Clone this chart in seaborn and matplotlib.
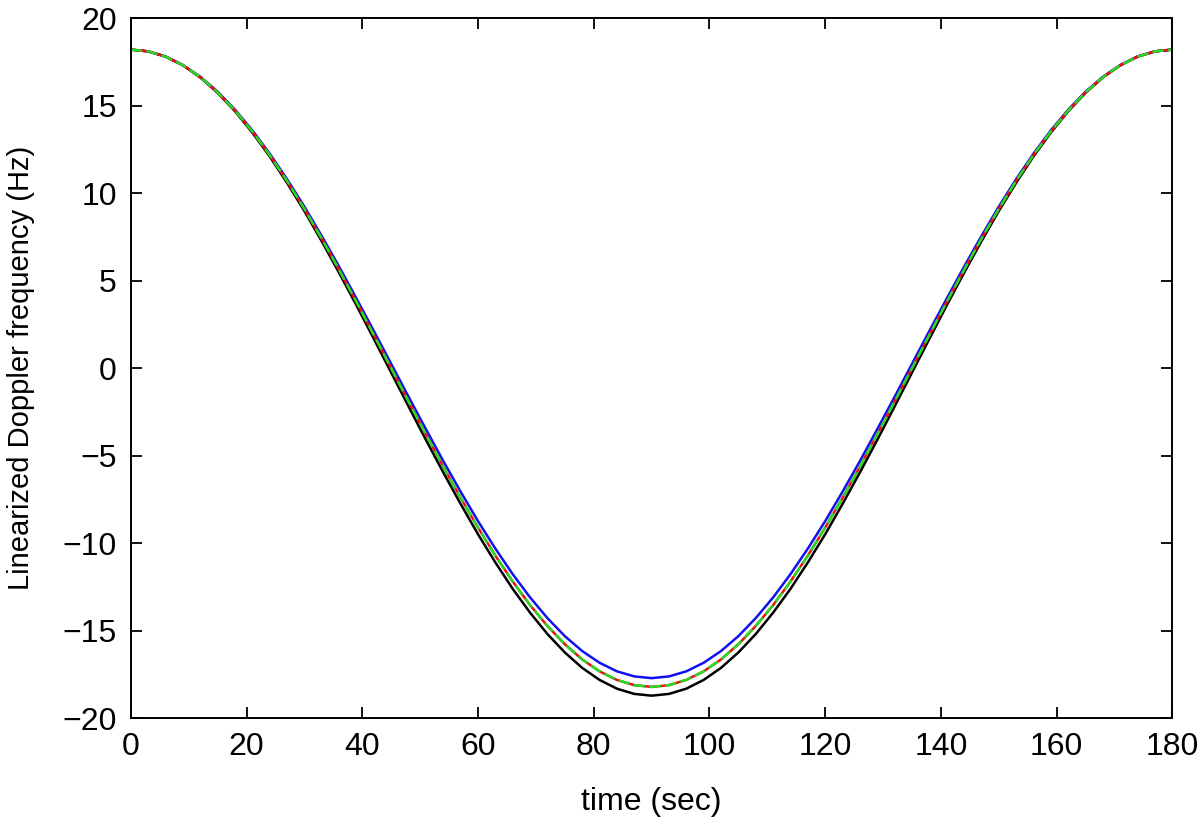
import numpy as np
import pandas as pd
import matplotlib
matplotlib.use("Agg")
import matplotlib.pyplot as plt
import seaborn as sns

# time axis (sec), sampled every 3 s
time_sec = [0, 3, 6, 9, 12, 15, 18, 21, 24, 27, 30, 33, 36, 39, 42, 45, 48, 51, 54, 57,
            60, 63, 66, 69, 72, 75, 78, 81, 84, 87, 90, 93, 96, 99, 102, 105, 108, 111,
            114, 117, 120, 123, 126, 129, 132, 135, 138, 141, 144, 147, 150, 153, 156,
            159, 162, 165, 168, 171, 174, 177, 180]

# curves (Hz)
f_blue = [18.20, 18.10, 17.81, 17.32, 16.65, 15.80, 14.77, 13.59, 12.26, 10.80,
          9.23, 7.55, 5.80, 3.98, 2.13, 0.25, -1.63, -3.48, -5.30, -7.05,
          -8.73, -10.30, -11.76, -13.09, -14.27, -15.30, -16.15, -16.82, -17.31, -17.60,
          -17.70,
          -17.60, -17.31, -16.82, -16.15, -15.30, -14.27, -13.09, -11.76, -10.30, -8.73,
          -7.05, -5.30, -3.48, -1.63, 0.25, 2.13, 3.98, 5.80, 7.55, 9.23,
          10.80, 12.26, 13.59, 14.77, 15.80, 16.65, 17.32, 17.81, 18.10, 18.20]
f_red = [18.20, 18.10, 17.80, 17.31, 16.63, 15.76, 14.72, 13.53, 12.18, 10.70,
         9.10, 7.40, 5.62, 3.78, 1.90, 0.00, -1.90, -3.78, -5.62, -7.40,
         -9.10, -10.70, -12.18, -13.53, -14.72, -15.76, -16.63, -17.31, -17.80, -18.10,
         -18.20,
         -18.10, -17.80, -17.31, -16.63, -15.76, -14.72, -13.53, -12.18, -10.70, -9.10,
         -7.40, -5.62, -3.78, -1.90, 0.00, 1.90, 3.78, 5.62, 7.40, 9.10,
         10.70, 12.18, 13.53, 14.72, 15.76, 16.63, 17.31, 17.80, 18.10, 18.20]
f_green = [18.20, 18.10, 17.80, 17.31, 16.63, 15.76, 14.72, 13.53, 12.18, 10.70,
           9.10, 7.40, 5.62, 3.78, 1.90, 0.00, -1.90, -3.78, -5.62, -7.40,
           -9.10, -10.70, -12.18, -13.53, -14.72, -15.76, -16.63, -17.31, -17.80, -18.10,
           -18.20,
           -18.10, -17.80, -17.31, -16.63, -15.76, -14.72, -13.53, -12.18, -10.70, -9.10,
           -7.40, -5.62, -3.78, -1.90, 0.00, 1.90, 3.78, 5.62, 7.40, 9.10,
           10.70, 12.18, 13.53, 14.72, 15.76, 16.63, 17.31, 17.80, 18.10, 18.20]
f_black = [18.20, 18.10, 17.80, 17.30, 16.61, 15.73, 14.68, 13.46, 12.10, 10.59,
           8.98, 7.25, 5.45, 3.59, 1.68, -0.25, -2.18, -4.09, -5.95, -7.75,
           -9.48, -11.09, -12.60, -13.96, -15.18, -16.23, -17.11, -17.80, -18.30, -18.60,
           -18.70,
           -18.60, -18.30, -17.80, -17.11, -16.23, -15.18, -13.96, -12.60, -11.09, -9.48,
           -7.75, -5.95, -4.09, -2.18, -0.25, 1.68, 3.59, 5.45, 7.25, 8.98,
           10.59, 12.10, 13.46, 14.68, 15.73, 16.61, 17.30, 17.80, 18.10, 18.20]

x_ticks = [0, 20, 40, 60, 80, 100, 120, 140, 160, 180]
y_ticks = [-20, -15, -10, -5, 0, 5, 10, 15, 20]

sns.set_style("ticks")
plt.rcParams['font.family'] = ['Liberation Sans', 'DejaVu Sans']
plt.rcParams['text.color'] = 'black'
plt.rcParams['axes.labelcolor'] = 'black'
plt.rcParams['xtick.color'] = 'black'
plt.rcParams['ytick.color'] = 'black'

fig = plt.figure(figsize=(12, 8.22), dpi=100)
ax = fig.add_axes([0.109, 0.126, 0.868, 0.852])

lw = 1.8
sns.lineplot(x=time_sec, y=f_black, color='black', lw=lw, ax=ax)
sns.lineplot(x=time_sec, y=f_blue, color='#1010f0', lw=lw, ax=ax)
sns.lineplot(x=time_sec, y=f_red, color='#f01010', lw=lw, ax=ax)
sns.lineplot(x=time_sec, y=f_green, color='#22dd22', lw=lw, ax=ax)
ax.lines[-1].set_linestyle((0, (4.5, 1.8)))

ax.set_xlim(0, 180)
ax.set_ylim(-20, 20)
ax.set_xticks(x_ticks)
ax.set_yticks(y_ticks)
ax.tick_params(direction='in', length=8, width=1.3, labelsize=23, pad=10,
               top=True, right=True, colors='black')
for s in ax.spines.values():
    s.set_linewidth(1.4)
    s.set_color('black')
    s.set_visible(True)

ax.set_xlabel('time (sec)', fontsize=23, labelpad=18)
ax.set_ylabel('Linearized Doppler frequency (Hz)', fontsize=21, labelpad=20)

fig.savefig('out.png', dpi=100)
